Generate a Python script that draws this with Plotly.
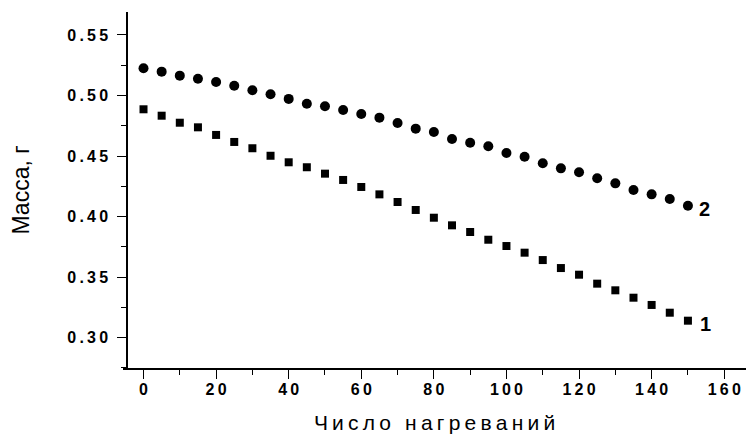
import plotly.graph_objects as go

x_vals = [0, 5, 10, 15, 20, 25, 30, 35, 40, 45, 50, 55, 60, 65, 70, 75,
          80, 85, 90, 95, 100, 105, 110, 115, 120, 125, 130, 135, 140, 145, 150]

mass_1 = [0.4886, 0.4833, 0.4775, 0.4737, 0.4674, 0.4616, 0.4564, 0.4502,
          0.4448, 0.4407, 0.4354, 0.4302, 0.4244, 0.4183, 0.4120, 0.4054,
          0.3990, 0.3927, 0.3872, 0.3808, 0.3756, 0.3701, 0.3640, 0.3574,
          0.3519, 0.3445, 0.3390, 0.3329, 0.3269, 0.3205, 0.3139]

mass_2 = [0.5225, 0.5197, 0.5164, 0.5139, 0.5112, 0.5081, 0.5043, 0.5010,
          0.4972, 0.4932, 0.4911, 0.4880, 0.4847, 0.4817, 0.4773, 0.4726,
          0.4698, 0.4640, 0.4610, 0.4580, 0.4525, 0.4494, 0.4440, 0.4398,
          0.4365, 0.4316, 0.4274, 0.4219, 0.4183, 0.4145, 0.4089]

x_ticks = [0, 20, 40, 60, 80, 100, 120, 140, 160]
y_ticks = [0.30, 0.35, 0.40, 0.45, 0.50, 0.55]

series_labels = ["1", "2"]

TS = "\u2009"


def spaced(s):
    return TS.join(list(s))


x_ticktext = [spaced(str(v)) for v in x_ticks]
y_ticktext = [spaced(f"{v:.2f}") for v in y_ticks]

fig = go.Figure()
fig.add_trace(go.Scatter(x=x_vals, y=mass_1, mode="markers",
                         marker=dict(symbol="square", size=8, color="black"),
                         showlegend=False))
fig.add_trace(go.Scatter(x=x_vals, y=mass_2, mode="markers",
                         marker=dict(symbol="circle", size=10, color="black"),
                         showlegend=False))

fig.add_annotation(x=x_vals[-1], y=mass_1[-1], text=series_labels[0], showarrow=False,
                   xanchor="left", xshift=10, yshift=-3,
                   font=dict(family="Liberation Sans", size=20, color="black", weight="bold"))
fig.add_annotation(x=x_vals[-1], y=mass_2[-1], text=series_labels[1], showarrow=False,
                   xanchor="left", xshift=9, yshift=-3,
                   font=dict(family="Liberation Sans", size=20, color="black", weight="bold"))

tickfont = dict(family="Liberation Sans", size=16, color="black", weight="bold")

fig.update_layout(
    width=746, height=434,
    margin=dict(l=123, r=0, t=12, b=66, autoexpand=False),
    paper_bgcolor="white", plot_bgcolor="white",
    xaxis=dict(range=[-5.65, 166], showgrid=False, zeroline=False,
               showline=True, linecolor="black", linewidth=1.5,
               tickmode="array", tickvals=x_ticks, ticktext=x_ticktext,
               ticks="outside", ticklen=9, tickwidth=1.2, tickcolor="black",
               minor=dict(dtick=10, ticks="outside", ticklen=5, tickwidth=1.2, tickcolor="black", showgrid=False),
               tickfont=tickfont, ticklabelstandoff=-3,
               title=dict(text=spaced("Число нагреваний"), standoff=18,
                          font=dict(family="Liberation Sans", size=21, color="black"))),
    yaxis=dict(range=[0.2748, 0.569], showgrid=False, zeroline=False,
               showline=True, linecolor="black", linewidth=1.5,
               anchor="free", position=0.0064,
               tickmode="array", tickvals=y_ticks, ticktext=y_ticktext,
               ticks="outside", ticklen=9, tickwidth=1.2, tickcolor="black",
               minor=dict(dtick=0.025, tick0=0.3, ticks="outside", ticklen=5, tickwidth=1.2, tickcolor="black", showgrid=False),
               tickfont=tickfont, ticklabelstandoff=6,
               title=dict(text="Масса, г", standoff=30,
                          font=dict(family="Liberation Sans", size=23, color="black"))),
)

fig.write_html("out.html", config={"displayModeBar": False},
               post_script="document.body.style.margin='0';")
